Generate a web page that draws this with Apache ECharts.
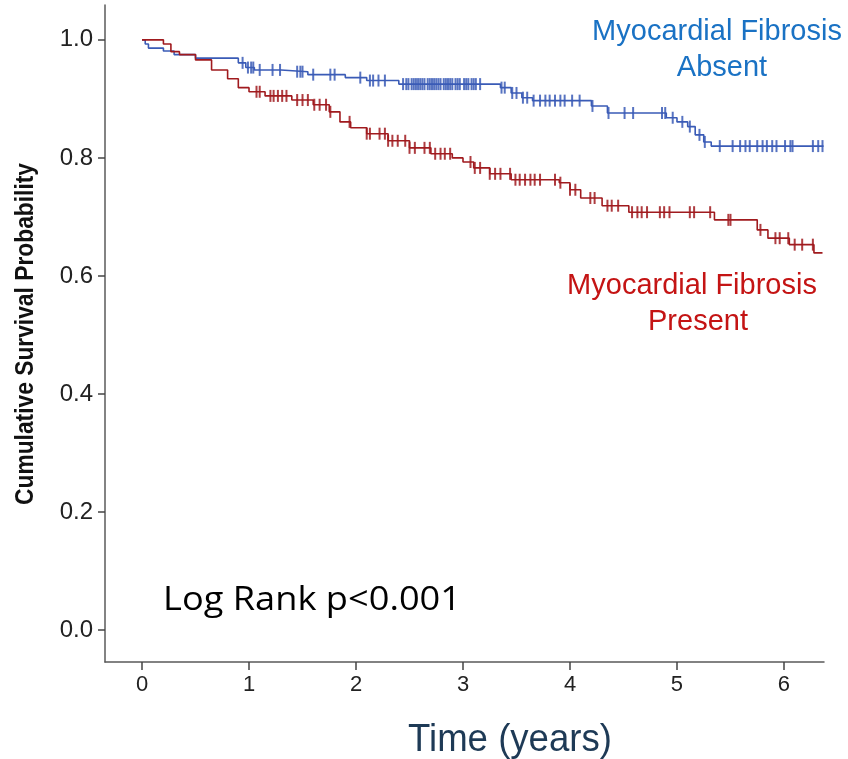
<!DOCTYPE html>
<html>
<head>
<meta charset="utf-8">
<script src="https://cdn.jsdelivr.net/npm/echarts@6/dist/echarts.min.js"></script>
<style>
  html, body { margin: 0; padding: 0; background: #fff; }
  #km { width: 848px; height: 759px; }
</style>
</head>
<body>
<div id="km"></div>
<script>
// Kaplan-Meier steps: time (years) and survival after each event
var absentT = [0, 0.03, 0.06, 0.2, 0.3, 0.5, 0.9, 0.97, 1.05, 1.3, 1.55, 1.9, 2.1, 2.4, 3.35, 3.45, 3.55, 3.65, 4.2, 4.35, 4.9, 5.0, 5.1, 5.17, 5.25, 5.32, 6.37];
var absentS = [1.0, 0.993, 0.986, 0.981, 0.975, 0.969, 0.961, 0.953, 0.949, 0.946, 0.941, 0.936, 0.931, 0.925, 0.919, 0.910, 0.902, 0.897, 0.888, 0.876, 0.868, 0.861, 0.853, 0.839, 0.827, 0.820, 0.820];
var presentT = [0, 0.2, 0.27, 0.35, 0.5, 0.65, 0.8, 0.9, 1.0, 1.15, 1.4, 1.6, 1.75, 1.85, 1.95, 2.1, 2.3, 2.5, 2.7, 2.9, 3.0, 3.1, 3.25, 3.45, 3.9, 4.0, 4.1, 4.3, 4.55, 5.35, 5.75, 5.85, 6.05, 6.28, 6.36];
var presentS = [1.0, 0.993, 0.980, 0.975, 0.966, 0.949, 0.934, 0.919, 0.912, 0.905, 0.898, 0.890, 0.878, 0.861, 0.851, 0.841, 0.829, 0.817, 0.807, 0.800, 0.793, 0.783, 0.773, 0.763, 0.758, 0.746, 0.732, 0.719, 0.708, 0.695, 0.678, 0.664, 0.653, 0.639, 0.639];

// censored times
var absentCens = [0.94, 0.99, 1.02, 1.04, 1.10, 1.22, 1.29, 1.45, 1.48, 1.50, 1.60, 1.76, 1.80, 2.04, 2.13, 2.16, 2.21, 2.27,
  2.44, 2.47, 2.49, 2.52, 2.54, 2.56, 2.58, 2.60, 2.62, 2.64, 2.67, 2.69, 2.71, 2.73, 2.75, 2.77, 2.79, 2.82, 2.84, 2.86,
  2.88, 2.90, 2.93, 2.95, 2.97, 3.01, 3.03, 3.05, 3.08, 3.10, 3.12, 3.16,
  3.36, 3.39, 3.46, 3.50, 3.56, 3.60, 3.66, 3.72, 3.77, 3.81, 3.86, 3.91, 3.95, 4.02, 4.09, 4.21, 4.36, 4.51, 4.59,
  4.86, 4.89, 4.96, 5.05, 5.12, 5.21, 5.26, 5.40, 5.52, 5.59, 5.64, 5.68, 5.75, 5.80, 5.84, 5.89, 5.93, 6.01, 6.06, 6.08,
  6.27, 6.32, 6.36];
var presentCens = [1.07, 1.10, 1.20, 1.23, 1.27, 1.31, 1.35, 1.45, 1.50, 1.55, 1.61, 1.66, 1.72, 1.76, 1.94, 2.10, 2.13,
  2.22, 2.27, 2.30, 2.34, 2.39, 2.46, 2.50, 2.55, 2.64, 2.69, 2.74, 2.79, 2.83, 2.88, 3.07, 3.11, 3.16, 3.25, 3.30, 3.35,
  3.44, 3.49, 3.53, 3.58, 3.63, 3.67, 3.72, 3.86, 3.91, 4.00, 4.05, 4.19, 4.23, 4.35, 4.39, 4.45, 4.58, 4.63, 4.67, 4.72,
  4.84, 4.88, 4.93, 5.12, 5.16, 5.31, 5.48, 5.50, 5.78, 5.92, 5.96, 6.04, 6.10, 6.17, 6.27];

var xTicks = [0, 1, 2, 3, 4, 5, 6];
var yTicks = [0, 0.2, 0.4, 0.6, 0.8, 1.0];

var blue = '#3a5bb6';
var red = '#a01a1e';

function pairs(ts, ss) {
    var out = [];
    for (var i = 0; i < ts.length; i++) out.push([ts[i], ss[i]]);
    return out;
}
// survival value in effect at time t (step lookup)
function censMarks(ts, ss, cens) {
    return cens.map(function (t) {
        var s = ss[0];
        for (var i = 0; i < ts.length; i++) {
            if (ts[i] <= t) s = ss[i];
        }
        return [t, s];
    });
}

// squeeze a text horizontally to a wanted width (narrow font look)
var ctx = document.createElement('canvas').getContext('2d');
function fitScale(text, font, width) {
    ctx.font = font;
    return width / ctx.measureText(text).width;
}
var yTitleFont = 'bold 25px "Liberation Sans"';
var xTitleFont = '39px "Liberation Sans"';
var logRankFont = '33px "Open Sans"';

var myChart = echarts.init(document.getElementById('km'));

option = {
    animation: false,
    grid: {
        left: 105,
        right: 24,
        top: 5,
        bottom: 97
    },
    xAxis: {
        type: 'value',
        min: -0.346,
        max: 6.374,
        splitLine: { show: false },
        axisLine: { onZero: false, lineStyle: { color: '#5a5a5a', width: 1.5 } },
        axisTick: { show: true, length: 8, customValues: xTicks, lineStyle: { color: '#444', width: 1.5 } },
        axisLabel: {
            customValues: xTicks,
            color: '#222',
            fontSize: 22,
            fontFamily: 'Liberation Sans',
            margin: 12
        }
    },
    yAxis: {
        type: 'value',
        min: -0.054,
        max: 1.059,
        splitLine: { show: false },
        axisLine: { onZero: false, lineStyle: { color: '#5a5a5a', width: 1.5 } },
        axisTick: { show: true, length: 7, customValues: yTicks, lineStyle: { color: '#444', width: 1.5 } },
        axisLabel: {
            customValues: yTicks,
            color: '#222',
            fontSize: 24,
            fontFamily: 'Liberation Sans',
            margin: 12,
            formatter: function (v) { return v.toFixed(1); }
        }
    },
    graphic: [
        { type: 'text', x: 717, y: 17, style: { text: 'Myocardial Fibrosis', align: 'center', fill: '#1a72c4', font: '29px "Liberation Sans"' } },
        { type: 'text', x: 722, y: 53, style: { text: 'Absent', align: 'center', fill: '#1a72c4', font: '29px "Liberation Sans"' } },
        { type: 'text', x: 692, y: 271, style: { text: 'Myocardial Fibrosis', align: 'center', fill: '#c41414', font: '29px "Liberation Sans"' } },
        { type: 'text', x: 698, y: 307, style: { text: 'Present', align: 'center', fill: '#c41414', font: '29px "Liberation Sans"' } },
        {
            type: 'text', x: 163, y: 584,
            scaleX: fitScale('Log Rank p<0.001', logRankFont, 298),
            style: { text: 'Log Rank p<0.001', fill: '#000', font: logRankFont }
        },
        {
            type: 'text', x: 510, y: 740,
            scaleX: fitScale('Time (years)', xTitleFont, 204),
            style: { text: 'Time (years)', align: 'center', verticalAlign: 'middle', fill: '#1e3a56', font: xTitleFont }
        },
        {
            type: 'text', x: 26, y: 334, rotation: Math.PI / 2,
            scaleX: fitScale('Cumulative Survival Probability', yTitleFont, 342),
            style: { text: 'Cumulative Survival Probability', align: 'center', verticalAlign: 'middle', fill: '#111', font: yTitleFont }
        }
    ],
    series: [
        {
            name: 'Absent',
            type: 'line',
            step: 'end',
            showSymbol: false,
            lineStyle: { color: blue, width: 1.6 },
            data: pairs(absentT, absentS)
        },
        {
            name: 'Present',
            type: 'line',
            step: 'end',
            showSymbol: false,
            lineStyle: { color: red, width: 1.6 },
            data: pairs(presentT, presentS)
        },
        {
            name: 'Absent censored',
            type: 'scatter',
            symbol: 'rect',
            symbolSize: [2, 12],
            itemStyle: { color: blue, opacity: 0.85 },
            data: censMarks(absentT, absentS, absentCens)
        },
        {
            name: 'Present censored',
            type: 'scatter',
            symbol: 'rect',
            symbolSize: [2, 12],
            itemStyle: { color: red, opacity: 0.85 },
            data: censMarks(presentT, presentS, presentCens)
        }
    ]
};

myChart.setOption(option);
</script>
</body>
</html>
